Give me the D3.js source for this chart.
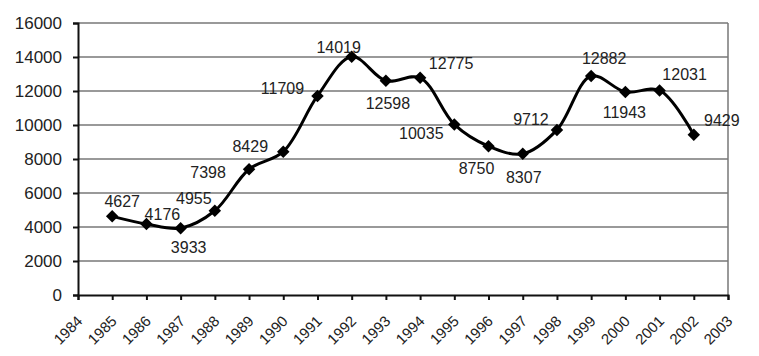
<!DOCTYPE html>
<html><head><meta charset="utf-8">
<script src="https://cdn.jsdelivr.net/npm/d3@7"></script>
<style>body{margin:0;background:#fff}svg{display:block}text{font-family:"Liberation Sans",Arial,sans-serif;fill:#222}</style>
</head><body><div id="chart"></div>
<script>
const years = [1985,1986,1987,1988,1989,1990,1991,1992,1993,1994,1995,1996,1997,1998,1999,2000,2001,2002];
const values = [4627,4176,3933,4955,7398,8429,11709,14019,12598,12775,10035,8750,8307,9712,12882,11943,12031,9429];
const xTickLabels = d3.range(1984, 2004);
const yTickValues = [0,2000,4000,6000,8000,10000,12000,14000,16000];
// label offsets (dx, dy) relative to each point
const labelOffsets = [[10,-15],[16,-10],[8,19],[-21,-12],[-41,3],[-33,-5],[-35,-7],[-13,-9],[2,23],[31,-14],[-33,9],[-12,22],[1,24],[-26,-10],[13,-18],[-1,21],[25,-16],[28,-14]];

const W = 759, H = 356;
const m = {left:78, right:31, top:23, bottom:61};
const svg = d3.select("#chart").append("svg").attr("width", W).attr("height", H);
const x = d3.scaleLinear().domain([1984, 2003]).range([m.left, W - m.right]);
const y = d3.scaleLinear().domain([0, 16000]).range([H - m.bottom, m.top]);

// gridlines
svg.append("g").selectAll("line").data(yTickValues.filter(v => v > 0)).join("line")
  .attr("x1", m.left).attr("x2", W - m.right)
  .attr("y1", d => y(d)).attr("y2", d => y(d))
  .attr("stroke", "#777").attr("stroke-width", 1.5);
// right border
svg.append("line").attr("x1", W - m.right).attr("x2", W - m.right)
  .attr("y1", m.top).attr("y2", H - m.bottom).attr("stroke", "#777").attr("stroke-width", 1.5);

// y axis
const yAxis = svg.append("g").attr("transform", `translate(${m.left},0)`)
  .call(d3.axisLeft(y).tickValues(yTickValues).tickSize(5).tickPadding(11).tickFormat(d3.format("d")));
yAxis.select(".domain").attr("stroke", "#111").attr("stroke-width", 2);
yAxis.selectAll(".tick line").attr("stroke", "#111").attr("stroke-width", 2);
yAxis.selectAll("text").attr("font-size", 17).attr("fill", "#222");

// x axis
const xAxis = svg.append("g").attr("transform", `translate(0,${H - m.bottom})`)
  .call(d3.axisBottom(x).tickValues(xTickLabels).tickSize(5).tickFormat(d3.format("d")));
xAxis.select(".domain").attr("stroke", "#111").attr("stroke-width", 2);
xAxis.selectAll(".tick line").attr("stroke", "#111").attr("stroke-width", 2);
xAxis.selectAll("text").attr("font-size", 15).attr("fill", "#222")
  .attr("text-anchor", "end").attr("dy", 0).attr("y", 0)
  .attr("transform", "translate(5,27) rotate(-45)");

const data = years.map((yr, i) => ({yr, v: values[i], off: labelOffsets[i]}));

// line
svg.append("path").datum(data)
  .attr("d", d3.line().x(d => x(d.yr)).y(d => y(d.v)).curve(d3.curveCatmullRom.alpha(0.5)))
  .attr("fill", "none").attr("stroke", "#000").attr("stroke-width", 3);

// markers
svg.append("g").selectAll("path").data(data).join("path")
  .attr("d", d3.symbol(d3.symbolSquare, 78))
  .attr("transform", d => `translate(${x(d.yr)},${y(d.v)}) rotate(45)`)
  .attr("fill", "#000");

// labels
svg.append("g").selectAll("text").data(data).join("text")
  .attr("x", d => x(d.yr) + d.off[0]).attr("y", d => y(d.v) + d.off[1])
  .attr("text-anchor", "middle").attr("dominant-baseline", "central")
  .attr("font-size", 16).text(d => d.v);
</script></body></html>
